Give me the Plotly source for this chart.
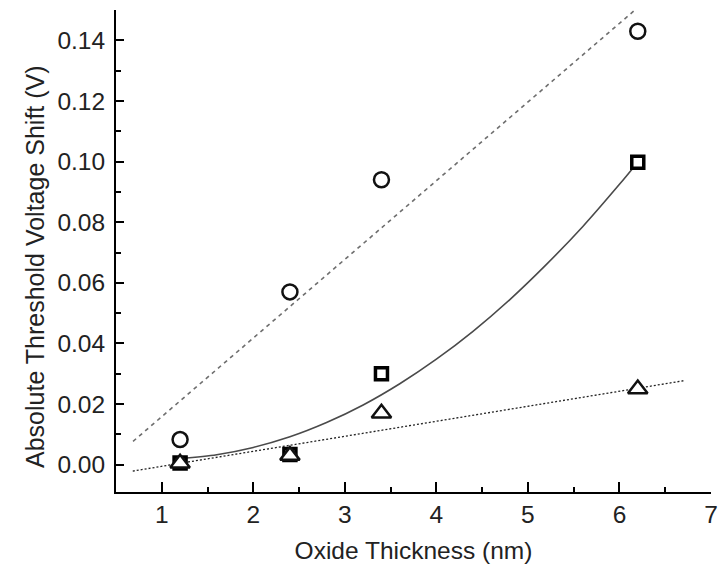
import plotly.graph_objects as go

# Measured data (oxide thickness in nm, absolute threshold voltage shift in V)
thickness = [1.2, 2.4, 3.4, 6.2]
shift_circle = [0.0083, 0.057, 0.094, 0.143]
shift_square = [0.0006, 0.0034, 0.030, 0.0998]
shift_triangle = [0.0005, 0.003, 0.017, 0.025]

# Fit lines
dash_x = [0.686, 6.17]
dash_y = [0.0077, 0.150]

curve_x = [1.2, 1.6, 2.0, 2.4, 2.8, 3.2, 3.6, 4.0, 4.4, 4.8, 5.2, 5.6, 6.0, 6.2]
curve_y = [0.0020, 0.0033, 0.0057, 0.0092, 0.0139, 0.0197, 0.0267, 0.0348,
           0.0440, 0.0544, 0.0660, 0.0786, 0.0925, 0.0998]

dot_x = [0.683, 6.72]
dot_y = [-0.0021, 0.0278]

x_title = "Oxide Thickness (nm)"
y_title = "Absolute Threshold Voltage Shift (V)"

FONT = "Liberation Sans, Arial, sans-serif"

fig = go.Figure()

fig.add_trace(go.Scatter(x=dash_x, y=dash_y, mode="lines",
                         line=dict(color="#6e6e6e", width=1.6, dash="4px,4px"),
                         showlegend=False, hoverinfo="skip"))
fig.add_trace(go.Scatter(x=curve_x, y=curve_y, mode="lines",
                         line=dict(color="#4a4a4a", width=1.6, shape="spline", smoothing=0.8),
                         showlegend=False, hoverinfo="skip"))
fig.add_trace(go.Scatter(x=dot_x, y=dot_y, mode="lines",
                         line=dict(color="#222222", width=1.3, dash="2px,2px"),
                         showlegend=False, hoverinfo="skip"))

fig.add_trace(go.Scatter(x=thickness, y=shift_circle, mode="markers",
                         marker=dict(symbol="circle", size=15, color="white",
                                     line=dict(color="#111111", width=2.5)),
                         showlegend=False))
fig.add_trace(go.Scatter(x=thickness, y=shift_square, mode="markers",
                         marker=dict(symbol="square", size=12, color="white",
                                     line=dict(color="#000000", width=3.5)),
                         showlegend=False))
fig.add_trace(go.Scatter(x=thickness, y=shift_triangle, mode="markers",
                         marker=dict(symbol="triangle-up", size=17, color="white",
                                     line=dict(color="#111111", width=2.5)),
                         showlegend=False))

# The page body adds an 8px offset, so the figure is sized to compensate
fig.update_layout(
    width=720, height=559,
    margin=dict(l=108, r=17, t=2, b=75),
    paper_bgcolor="white", plot_bgcolor="white",
    font=dict(family=FONT, color="#222222", size=24),
    showlegend=False,
    annotations=[dict(text=y_title, textangle=-90, xref="paper", yref="paper",
                      x=-0.136, y=0.467, xanchor="center", yanchor="middle",
                      showarrow=False, font=dict(size=25, family=FONT, color="#222222"))],
)

fig.update_xaxes(
    range=[0.5, 7], tick0=1, dtick=1, automargin=False,
    showgrid=False, zeroline=False,
    showline=True, linecolor="black", linewidth=2,
    ticks="inside", ticklen=10, tickwidth=2, tickcolor="black",
    minor=dict(ticks="inside", ticklen=5, tickwidth=2, tickcolor="black", dtick=0.5, tick0=0.5),
    tickfont=dict(size=24.5),
    ticklabelstandoff=0,
    title=dict(text=x_title, font=dict(size=24.5), standoff=14),
)
fig.update_yaxes(
    range=[-0.009, 0.15], tick0=0, dtick=0.02, tickformat=".2f", automargin=False,
    showgrid=False, zeroline=False,
    showline=True, linecolor="black", linewidth=2,
    ticks="inside", ticklen=8, tickwidth=2, tickcolor="black",
    minor=dict(ticks="inside", ticklen=5, tickwidth=2, tickcolor="black", dtick=0.01, tick0=0),
    tickfont=dict(size=24.5),
    ticklabelstandoff=4,
)

fig.write_html("out.html")
